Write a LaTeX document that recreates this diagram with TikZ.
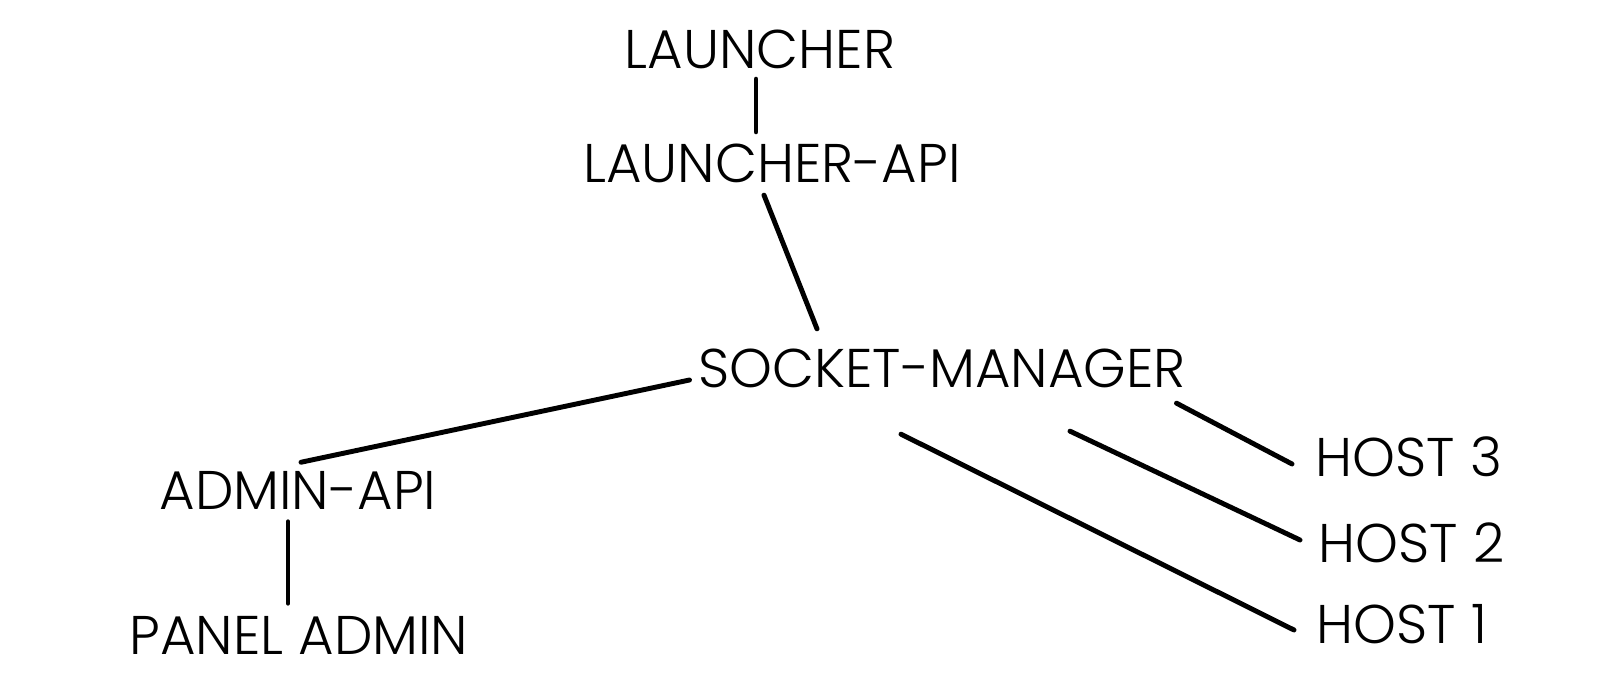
\documentclass[tikz,border=0pt]{standalone}
\usepackage{fontspec}
\setmainfont{Poppins}[UprightFont={* Light}]
\usetikzlibrary{calc}
\tikzset{
  lbl/.style={inner sep=0pt, font=\fontsize{15.5}{18}\selectfont},
  link/.style={line width=1.4pt, line cap=round}
}
\begin{document}
\begin{tikzpicture}[x=0.01cm,y=-0.01cm]
\useasboundingbox (0,0) rectangle (1618,691);
% nodes
\node[lbl] (launcher) at (760,49) {LAUNCHER};
\node[lbl] (lapi) at (772,163) {LAUNCHER-API};
\node[lbl] (sm) at (942,368) {SOCKET-MANAGER};
\node[lbl] (adm) at (298,490) {ADMIN-API};
\node[lbl] (pnl) at (299,635) {PANEL ADMIN};
\node[lbl, anchor=west] (host3) at (1315,457) {HOST 3};
\node[lbl, anchor=west] (host2) at (1318,543) {HOST 2};
\node[lbl, anchor=west] (host1) at (1316,624) {HOST 1};
% links
\draw[link] ($(launcher.south)+(-4,10)$) -- ($(lapi.north)+(-16,-11)$);
\draw[link] ($(lapi.south)+(-8,12)$) -- ($(sm.north)+(-125,-19)$);
\draw[link] ($(sm.west)+(-8,12)$) -- ($(adm.north)+(3,-8)$);
\draw[link] ($(adm.south)+(-10,12)$) -- ($(pnl.north)+(-11,-12)$);
\draw[link] ($(sm.south)+(-41,46)$) -- ($(host1.west)+(-22,6)$);
\draw[link] ($(sm.south)+(128,43)$) -- ($(host2.west)+(-18,-3)$);
\draw[link] ($(sm.south east)+(-10,15)$) -- ($(host3.west)+(-23,7)$);
\end{tikzpicture}
\end{document}
